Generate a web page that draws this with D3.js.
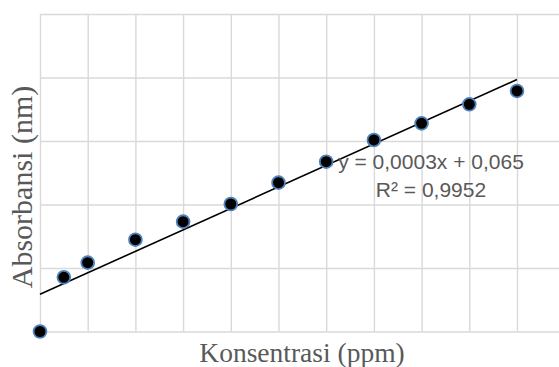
<!DOCTYPE html>
<html>
<head>
<meta charset="utf-8">
<script src="https://cdn.jsdelivr.net/npm/d3@7"></script>
<style>
  body { margin: 0; background: #fff; }
  svg { display: block; }
</style>
</head>
<body>
<div id="chart"></div>
<script>
// chart size
var width = 559,
    height = 367

// plot area (the right edge runs past the picture, as in the reference)
var plotLeft = 40, plotRight = 564.7, plotTop = 14, plotBottom = 331.5

// data
var konsentrasi = [0, 25, 50, 100, 150, 200, 250, 300, 350, 400, 450, 500]
var absorbansi = [0.000, 0.0427, 0.0542, 0.0723, 0.0865, 0.1004, 0.1172, 0.1337, 0.1508, 0.1639, 0.1789, 0.1894]

// grid positions (no tick labels are shown)
var xTicks = [0, 50, 100, 150, 200, 250, 300, 350, 400, 450, 500, 550]
var yTicks = [0, 0.05, 0.1, 0.15, 0.2, 0.25]

// trendline label as printed on the chart
var eqLines = ["y = 0,0003x + 0,065", "R² = 0,9952"]

var svg = d3.select("#chart")
  .append("svg")
    .attr("width", width)
    .attr("height", height)

var x = d3.scaleLinear().domain([0, 550]).range([plotLeft, plotRight])
var y = d3.scaleLinear().domain([0, 0.25]).range([plotBottom, plotTop])

// vertical grid
svg.append("g")
  .attr("transform", "translate(0," + plotBottom + ")")
  .call(d3.axisBottom(x).tickValues(xTicks).tickSize(-(plotBottom - plotTop)).tickFormat(""))
  .call(function(g) { g.select(".domain").remove() })
  .selectAll("line")
    .attr("stroke", "#d9d9d9")
    .attr("stroke-width", 1.4)

// horizontal grid
svg.append("g")
  .attr("transform", "translate(" + plotLeft + ",0)")
  .call(d3.axisLeft(y).tickValues(yTicks).tickSize(-(plotRight - plotLeft)).tickFormat(""))
  .call(function(g) { g.select(".domain").remove() })
  .selectAll("line")
    .attr("stroke", "#d9d9d9")
    .attr("stroke-width", 1.4)

// least squares trendline from the points
var mx = d3.mean(konsentrasi), my = d3.mean(absorbansi)
var sxy = d3.sum(konsentrasi, function(d, i) { return (d - mx) * (absorbansi[i] - my) })
var sxx = d3.sum(konsentrasi, function(d) { return (d - mx) * (d - mx) })
var slope = sxy / sxx
var intercept = my - slope * mx
var xExt = d3.extent(konsentrasi)

svg.append("line")
  .attr("x1", x(xExt[0]))
  .attr("y1", y(intercept + slope * xExt[0]))
  .attr("x2", x(xExt[1]))
  .attr("y2", y(intercept + slope * xExt[1]))
  .attr("stroke", "#000")
  .attr("stroke-width", 1.6)

// points
svg.selectAll("circle")
  .data(konsentrasi)
  .enter()
  .append("circle")
    .attr("cx", function(d) { return x(d) })
    .attr("cy", function(d, i) { return y(absorbansi[i]) })
    .attr("r", 6.4)
    .attr("fill", "#000")
    .attr("stroke", "#4f81bd")
    .attr("stroke-width", 1.8)

// equation label
svg.selectAll(".eq")
  .data(eqLines)
  .enter()
  .append("text")
    .attr("class", "eq")
    .attr("x", 431)
    .attr("y", function(d, i) { return 169 + i * 27.5 })
    .attr("text-anchor", "middle")
    .style("font-family", "'Liberation Sans', Arial, sans-serif")
    .style("font-size", "21px")
    .attr("fill", "#595959")
    .text(function(d) { return d })

// axis titles
svg.append("text")
  .attr("x", 302)
  .attr("y", 362)
  .attr("text-anchor", "middle")
  .style("font-family", "'Liberation Serif', 'Times New Roman', serif")
  .style("font-size", "27.5px")
  .attr("fill", "#595959")
  .text("Konsentrasi (ppm)")

svg.append("text")
  .attr("transform", "translate(32,187) rotate(-90)")
  .attr("text-anchor", "middle")
  .style("font-family", "'Liberation Serif', 'Times New Roman', serif")
  .style("font-size", "30px")
  .attr("fill", "#595959")
  .text("Absorbansi (nm)")
</script>
</body>
</html>
